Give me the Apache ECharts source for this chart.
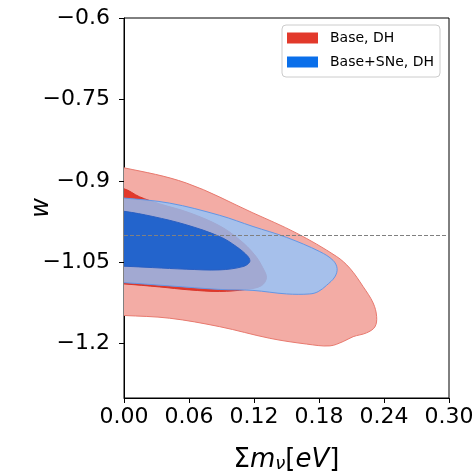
<!DOCTYPE html>
<html>
<head>
<meta charset="utf-8">
<script src="https://cdn.jsdelivr.net/npm/echarts@6/dist/echarts.min.js"></script>
<style>
  html, body { margin: 0; padding: 0; background: #fff; }
  #chart { width: 475px; height: 475px; }
</style>
</head>
<body>
<div id="chart"></div>
<script>
// Axis ticks
const massTicks = [0, 0.06, 0.12, 0.18, 0.24, 0.30];
const massTickLabels = ['0.00', '0.06', '0.12', '0.18', '0.24', '0.30'];
const wTicks = [-1.2, -1.05, -0.9, -0.75, -0.6];
const wTickLabels = ['\u22121.2', '\u22121.05', '\u22120.9', '\u22120.75', '\u22120.6'];

// Reference value of the equation of state (cosmological constant)
const wLambda = -1;

// Contour outlines, [sum of neutrino masses (eV), w]; edges touching the
// Σmν = 0 prior bound run just past it and are clipped by the grid.
const baseDH95 = [
  [-0.02, -0.872], [0, -0.876], [0.0575, -0.904], [0.119, -0.959], [0.159, -0.996],
  [0.196, -1.039], [0.2085, -1.061], [0.2208, -1.095], [0.230, -1.125], [0.2332, -1.150],
  [0.2316, -1.169], [0.2239, -1.180], [0.2115, -1.187], [0.2023, -1.196], [0.190, -1.204],
  [0.1684, -1.2006], [0.1345, -1.190], [0.0883, -1.1686], [0.042, -1.153], [0, -1.148],
  [-0.02, -1.147]
];
const baseDH68 = [
  [-0.02, -0.911], [0, -0.9146], [0.0143, -0.9293], [0.0328, -0.9422], [0.0606, -0.9589],
  [0.0883, -0.9829], [0.1068, -1.0087], [0.1206, -1.0362], [0.1281, -1.0600], [0.1315, -1.0785],
  [0.1268, -1.0932], [0.1130, -1.1000], [0.0883, -1.1037], [0.0606, -1.1009], [0.0328, -1.0954],
  [0, -1.0899], [-0.02, -1.088]
];
const baseSNeDH95 = [
  [-0.02, -0.930], [0, -0.9317], [0.0421, -0.9410], [0.0883, -0.9635], [0.1191, -0.9841],
  [0.1500, -1.0041], [0.1807, -1.0303], [0.1930, -1.0465], [0.1967, -1.0613], [0.1946, -1.0769],
  [0.1869, -1.0926], [0.1792, -1.1041], [0.1715, -1.1083], [0.1500, -1.1083], [0.1191, -1.1018],
  [0.0883, -1.1000], [0.0421, -1.0935], [0, -1.0875], [-0.02, -1.086]
];
const baseSNeDH68 = [
  [-0.02, -0.953], [0, -0.9561], [0.0266, -0.9657], [0.0575, -0.9810], [0.0883, -1.0026],
  [0.1037, -1.0210], [0.1145, -1.0395], [0.1160, -1.0493], [0.1098, -1.0579], [0.0883, -1.0640],
  [0.0575, -1.0627], [0.0266, -1.0598], [0, -1.0572], [-0.02, -1.0565]
];

const FONT = 'DejaVu Sans';

function contour(name, pts, fill, stroke, z) {
  return {
    type: 'custom',
    name: name,
    coordinateSystem: 'cartesian2d',
    z: z,
    clip: true,
    silent: true,
    data: pts,
    encode: { x: 0, y: 1 },
    renderItem: function (params, api) {
      if (params.dataIndex !== 0) return;
      const cs = params.coordSys;
      const points = pts.map(function (p) { return api.coord(p); });
      return {
        type: 'polygon',
        shape: { points: points, smooth: 0.35 },
        style: { fill: fill, stroke: stroke, lineWidth: 1 },
        clipPath: { type: 'rect', shape: { x: cs.x, y: cs.y, width: cs.width, height: cs.height } }
      };
    }
  };
}

const chart = echarts.init(document.getElementById('chart'), null, { renderer: 'canvas' });
chart.setOption({
  animation: false,
  backgroundColor: '#fff',
  grid: {
    left: 124, top: 18, width: 325, height: 380,
    outerBoundsMode: 'none', containLabel: false,
    show: true, borderColor: '#000', borderWidth: 1, backgroundColor: 'transparent'
  },
  legend: {
    orient: 'vertical',
    left: 282, top: 25,
    align: 'left',
    padding: [6, 6, 8, 5],
    itemWidth: 31, itemHeight: 11, itemGap: 10,
    backgroundColor: 'rgba(255,255,255,0.85)',
    borderColor: '#cccccc', borderWidth: 1, borderRadius: 4,
    textStyle: { fontFamily: FONT, fontSize: 14, color: '#000', padding: [0, 0, 0, 7] },
    selectedMode: false,
    data: [
      { name: 'Base, DH', icon: 'rect', itemStyle: { color: '#e2392b' } },
      { name: 'Base+SNe, DH', icon: 'rect', itemStyle: { color: '#0a6fea' } }
    ]
  },
  xAxis: {
    type: 'value', min: 0, max: 0.3,
    name: '{u|\u03a3}{i|m}{s|\u03bd}{u|[}{i|eV}{u|]}',
    nameLocation: 'middle', nameGap: 43, nameMoveOverlap: false,
    nameTextStyle: {
      rich: {
        u: { fontFamily: FONT, fontSize: 26, color: '#000', lineHeight: 32, verticalAlign: 'bottom' },
        i: { fontFamily: FONT, fontSize: 26, fontStyle: 'italic', color: '#000', lineHeight: 32, verticalAlign: 'bottom' },
        s: { fontFamily: FONT, fontSize: 18, fontStyle: 'italic', color: '#000', lineHeight: 19, verticalAlign: 'bottom' }
      }
    },
    splitLine: { show: false },
    axisLine: { show: true, lineStyle: { color: '#000', width: 1 } },
    axisTick: { show: true, inside: false, length: 5, lineStyle: { color: '#000' }, customValues: massTicks },
    axisLabel: {
      fontFamily: FONT, fontSize: 22, color: '#000', margin: 8,
      customValues: massTicks,
      formatter: function (v) { return massTickLabels[massTicks.findIndex(function (t) { return Math.abs(t - v) < 1e-9; })]; }
    }
  },
  yAxis: {
    type: 'value', min: -1.3, max: -0.6,
    name: 'w', nameLocation: 'middle', nameGap: 70, nameRotate: 90, nameMoveOverlap: false,
    nameTextStyle: { fontFamily: FONT, fontSize: 24, fontStyle: 'italic', color: '#000' },
    splitLine: { show: false },
    axisLine: { show: true, lineStyle: { color: '#000', width: 1 } },
    axisTick: { show: true, inside: false, length: 5, lineStyle: { color: '#000' }, customValues: wTicks },
    axisLabel: {
      fontFamily: FONT, fontSize: 22, color: '#000', margin: 14,
      customValues: wTicks,
      formatter: function (v) { return wTickLabels[wTicks.findIndex(function (t) { return Math.abs(t - v) < 1e-9; })]; }
    }
  },
  series: [
    contour('Base, DH', baseDH95, '#f3aca5', '#e8796e', 1),
    contour('Base, DH', baseDH68, '#e2392b', '#d9352a', 2),
    contour('Base+SNe, DH', baseSNeDH95, 'rgba(146,197,253,0.8)', '#6496e4', 3),
    contour('Base+SNe, DH', baseSNeDH68, '#2364cc', '#2a5fc2', 4),
    {
      type: 'line', z: 10, data: [], silent: true,
      markLine: {
        silent: true, symbol: ['none', 'none'], label: { show: false },
        lineStyle: { color: '#808080', type: [4, 2], width: 1 },
        data: [{ yAxis: wLambda }]
      }
    }
  ]
});
</script>
</body>
</html>
